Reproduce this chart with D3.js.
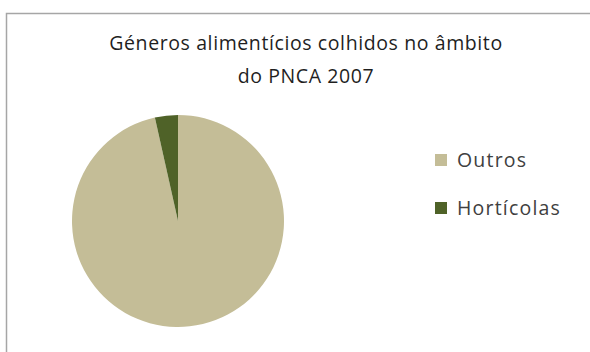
<!DOCTYPE html>
<html><head><meta charset="utf-8">
<script src="https://cdn.jsdelivr.net/npm/d3@7"></script>
<style>body{margin:0;background:#fff}svg{display:block}</style>
</head><body>
<script>
const categories = ["Outros", "Hortícolas"];
const values = [96.5, 3.5];
const colors = ["#c4bd97", "#4f6228"];
const titleLines = ["Géneros alimentícios colhidos no âmbito", "do PNCA 2007"];

const W = 590, H = 352;
const svg = d3.select("body").append("svg").attr("width", W).attr("height", H);
svg.append("rect").attr("width", W).attr("height", H).attr("fill", "#fff");
svg.append("rect").attr("x", 6.5).attr("y", 13.5).attr("width", W + 10).attr("height", H + 10)
  .attr("fill", "#fff").attr("stroke", "#a6a6a6").attr("stroke-width", 1.5);

const font = "'Open Sans', Lato, sans-serif";
svg.append("g").selectAll("text").data(titleLines).join("text")
  .attr("x", 306).attr("y", (d, i) => 50 + i * 33)
  .attr("text-anchor", "middle").attr("font-family", font).attr("font-size", 19.5)
  .attr("letter-spacing", 0.6)
  .attr("fill", "#1f1f1f").text(d => d);

const cx = 178, cy = 221, r = 106;
const pie = d3.pie().sort(null).value(d => d)(values);
const arc = d3.arc().innerRadius(0).outerRadius(r);
svg.append("g").attr("transform", `translate(${cx},${cy})`)
  .selectAll("path").data(pie).join("path")
  .attr("d", arc).attr("fill", (d, i) => colors[i]);

const lg = svg.append("g").selectAll("g").data(categories).join("g")
  .attr("transform", (d, i) => `translate(435,${160 + i * 48})`);
lg.append("rect").attr("x", 0).attr("y", -6).attr("width", 12).attr("height", 12)
  .attr("fill", (d, i) => colors[i]);
lg.append("text").attr("x", 22).attr("y", 7).attr("font-family", font)
  .attr("font-size", 19.5).attr("letter-spacing", 1.2).attr("fill", "#404040").text(d => d);
</script>
</body></html>
